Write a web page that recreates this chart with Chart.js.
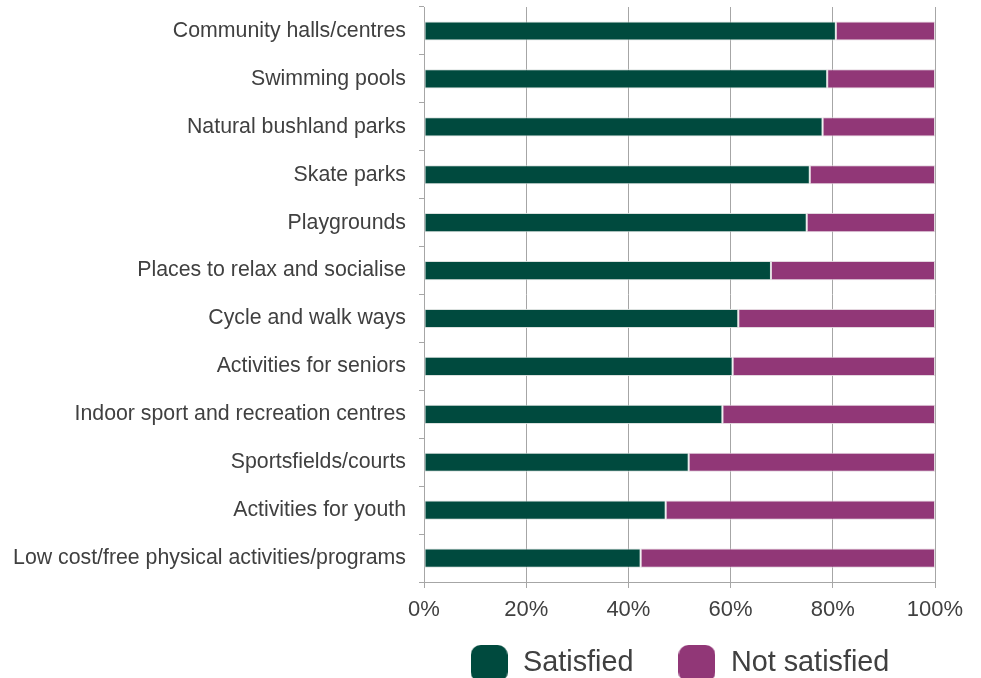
<!DOCTYPE html>
<html>
<head>
<meta charset="utf-8">
<script src="https://cdn.jsdelivr.net/npm/chart.js@4/dist/chart.umd.min.js"></script>
<style>
  html, body { margin: 0; padding: 0; overflow: hidden; background: #fff; }
  #wrap { width: 981px; height: 690px; position: relative; }
</style>
</head>
<body>
<div id="wrap"><canvas id="chart"></canvas></div>
<script>
// Facilities and services, ordered from most to least satisfied
const categories = [
  'Community halls/centres',
  'Swimming pools',
  'Natural bushland parks',
  'Skate parks',
  'Playgrounds',
  'Places to relax and socialise',
  'Cycle and walk ways',
  'Activities for seniors',
  'Indoor sport and recreation centres',
  'Sportsfields/courts',
  'Activities for youth',
  'Low cost/free physical activities/programs'
];

// Share of respondents (%)
const satisfied    = [80.6, 78.9, 78.0, 75.5, 74.9, 67.9, 61.5, 60.4, 58.4, 51.8, 47.3, 42.4];
const notSatisfied = [19.4, 21.1, 22.0, 24.5, 25.1, 32.1, 38.5, 39.6, 41.6, 48.2, 52.7, 57.6];

const seriesNames = ['Satisfied', 'Not satisfied'];
const xTicks = [0, 20, 40, 60, 80, 100];

const GREEN = '#004a3e';
const PURPLE = '#913777';
const GRID = '#a6a6a6';
const TEXT = '#404040';
const FONT = "'Liberation Sans', Arial, sans-serif";

// Rounded-square legend swatch
function swatch(color) {
  const size = 37, r = 10;
  const c = document.createElement('canvas');
  c.width = size; c.height = size;
  const g = c.getContext('2d');
  g.fillStyle = color;
  g.beginPath();
  g.moveTo(r, 0);
  g.lineTo(size - r, 0);
  g.arcTo(size, 0, size, r, r);
  g.lineTo(size, size - r);
  g.arcTo(size, size, size - r, size, r);
  g.lineTo(r, size);
  g.arcTo(0, size, 0, size - r, r);
  g.lineTo(0, r);
  g.arcTo(0, 0, r, 0, r);
  g.closePath();
  g.fill();
  return c;
}
const swatches = [swatch(GREEN), swatch(PURPLE)];

new Chart(document.getElementById('chart'), {
  type: 'bar',
  data: {
    labels: categories,
    datasets: [
      { label: seriesNames[0], data: satisfied, backgroundColor: GREEN,
        borderColor: 'rgba(215,222,220,0.9)', borderWidth: 1, borderSkipped: false,
        barPercentage: 0.4, categoryPercentage: 1 },
      { label: seriesNames[1], data: notSatisfied, backgroundColor: PURPLE,
        borderColor: 'rgba(225,210,220,0.9)', borderWidth: 1, borderSkipped: false,
        barPercentage: 0.4, categoryPercentage: 1 }
    ]
  },
  options: {
    indexAxis: 'y',
    responsive: true,
    maintainAspectRatio: false,
    animation: false,
    devicePixelRatio: 1,
    layout: { padding: { top: 7, right: 46, bottom: 2.1, left: 0 } },
    scales: {
      x: {
        stacked: true,
        min: 0,
        max: 100,
        afterBuildTicks: (s) => { s.ticks = xTicks.map(v => ({ value: v })); },
        ticks: {
          color: TEXT,
          font: { family: FONT, size: 22 },
          padding: 9,
          maxRotation: 0,
          callback: (v) => v + '%'
        },
        grid: { color: GRID, lineWidth: 1, tickLength: 6, drawTicks: true },
        border: { display: true, color: GRID, width: 1 },
        afterFit: (s) => {
          s.height = 23.1;
          s.paddingLeft = 0;
          s.paddingRight = 0;
          // let the tick labels extend below the compact axis box
          s._computeLabelArea = () => undefined;
        }
      },
      y: {
        stacked: true,
        ticks: {
          color: TEXT,
          font: { family: FONT, size: 21.3 },
          padding: 13,
          autoSkip: false
        },
        grid: { drawOnChartArea: false, drawTicks: true, tickLength: 5, color: GRID, offset: true },
        border: { display: true, color: GRID, width: 1 },
        afterFit: (s) => { s.width = 424; s.paddingTop = 0; s.paddingBottom = 0; }
      }
    },
    plugins: {
      tooltip: { enabled: false },
      legend: {
        position: 'bottom',
        fullSize: false,
        labels: {
          usePointStyle: true,
          pointStyleWidth: 39,
          padding: 44,
          color: TEXT,
          font: { family: FONT, size: 28.8 },
          generateLabels: (chart) => {
            const items = Chart.defaults.plugins.legend.labels.generateLabels(chart);
            items.forEach((it, i) => { it.pointStyle = swatches[i]; });
            return items;
          }
        }
      }
    }
  }
});
</script>
</body>
</html>
